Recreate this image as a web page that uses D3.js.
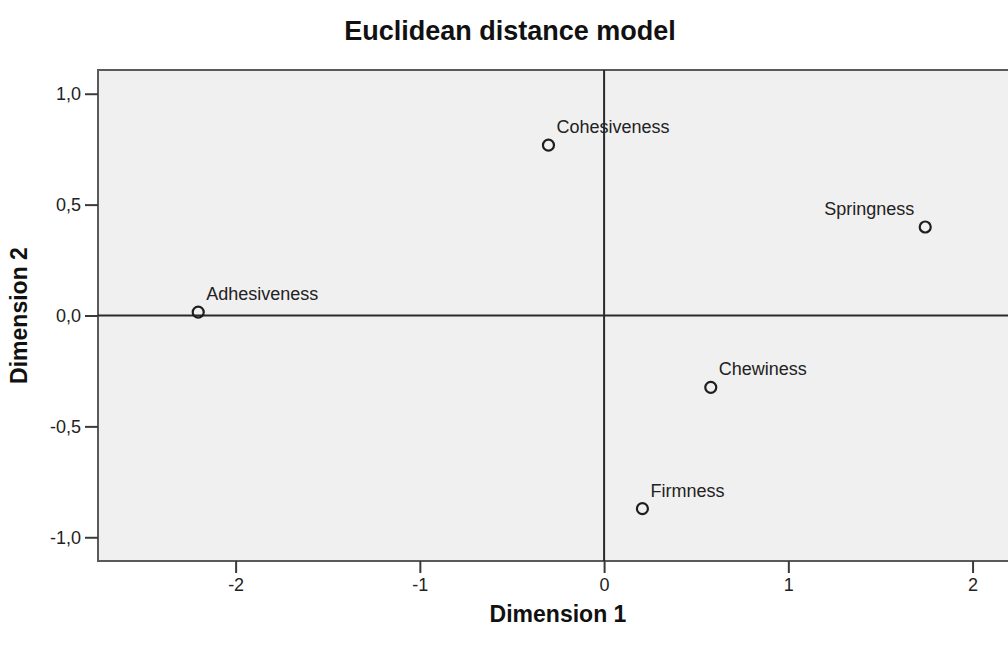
<!DOCTYPE html>
<html lang="en">
<head>
  <meta charset="UTF-8">
  <title>Euclidean distance model</title>
  <script src="https://d3js.org/d3.v7.min.js"></script>
  <style>
    html, body { margin: 0; padding: 0; background: #fff; overflow: hidden; }
    svg { display: block; font-family: "Liberation Sans", Arial, sans-serif; }
    .tick text { font-size: 18px; fill: #222; }
    .label { font-size: 18px; fill: #222; }
  </style>
</head>
<body>
<svg id="chart" width="1008" height="645"></svg>
<script>
// stimulus coordinates
const names = ["Cohesiveness", "Springness", "Adhesiveness", "Chewiness", "Firmness"];
const dim1 = [-0.302, 1.743, -2.203, 0.579, 0.208];
const dim2 = [0.768, 0.399, 0.015, -0.324, -0.871];
const xTicks = [-2, -1, 0, 1, 2];
const yTicks = [1.0, 0.5, 0.0, -0.5, -1.0];

const svg = d3.select("#chart"),
      plotL = 98, plotT = 70, plotR = 1012, plotB = 561;

const x = d3.scaleLinear().domain([-2.747, 2.214]).range([plotL, plotR]);
const y = d3.scaleLinear().domain([-1.107, 1.107]).range([plotB, plotT]);

svg.append("rect")
  .attr("x", plotL).attr("y", plotT)
  .attr("width", plotR - plotL).attr("height", plotB - plotT)
  .attr("fill", "#f0f0f0")
  .attr("stroke", "#5a5a5a")
  .attr("stroke-width", 2);

// reference lines at the origin
svg.append("line")
  .attr("x1", x(0)).attr("x2", x(0)).attr("y1", plotT).attr("y2", plotB)
  .attr("stroke", "#2a2a2a").attr("stroke-width", 2);
svg.append("line")
  .attr("x1", plotL).attr("x2", plotR).attr("y1", y(0)).attr("y2", y(0))
  .attr("stroke", "#2a2a2a").attr("stroke-width", 2);

// SPSS style: comma decimals and plain hyphen minus
const fmtY = d => d3.format(".1f")(d).replace(".", ",").replace("−", "-").replace("-0,0", "0,0");
const fmtX = d => String(d);

const xAxis = svg.append("g")
  .attr("transform", `translate(0,${plotB})`)
  .call(d3.axisBottom(x).tickValues(xTicks).tickSize(12).tickPadding(5).tickFormat(fmtX));
const yAxis = svg.append("g")
  .attr("transform", `translate(${plotL},0)`)
  .call(d3.axisLeft(y).tickValues(yTicks).tickSize(13).tickPadding(4).tickFormat(fmtY));

[xAxis, yAxis].forEach(a => {
  a.select(".domain").remove();
  a.selectAll(".tick line").attr("stroke", "#3a3a3a").attr("stroke-width", 2);
  a.selectAll(".tick text").attr("font-family", null).attr("font-size", null);
});

const pts = names.map((n, i) => ({name: n, x: dim1[i], y: dim2[i]}));

svg.append("g").selectAll("circle")
  .data(pts)
  .join("circle")
    .attr("cx", d => x(d.x))
    .attr("cy", d => y(d.y))
    .attr("r", 5.5)
    .attr("fill", "none")
    .attr("stroke", "#1e1e1e")
    .attr("stroke-width", 2.2);

// labels sit up-right of the marker, or up-left near the right edge
svg.append("g").selectAll("text")
  .data(pts)
  .join("text")
    .attr("class", "label")
    .attr("x", d => d.x > 1.5 ? x(d.x) - 11 : x(d.x) + 8)
    .attr("y", d => y(d.y) - 12)
    .attr("text-anchor", d => d.x > 1.5 ? "end" : "start")
    .text(d => d.name);

svg.append("text")
  .attr("x", 510).attr("y", 40)
  .attr("text-anchor", "middle")
  .attr("font-size", 27).attr("font-weight", "bold").attr("fill", "#111")
  .text("Euclidean distance model");

svg.append("text")
  .attr("x", 558).attr("y", 622)
  .attr("text-anchor", "middle")
  .attr("font-size", 23).attr("font-weight", "bold").attr("fill", "#111")
  .text("Dimension 1");

svg.append("text")
  .attr("transform", `translate(27,${(plotT + plotB) / 2}) rotate(-90)`)
  .attr("text-anchor", "middle")
  .attr("font-size", 23).attr("font-weight", "bold").attr("fill", "#111")
  .text("Dimension 2");
</script>
</body>
</html>
